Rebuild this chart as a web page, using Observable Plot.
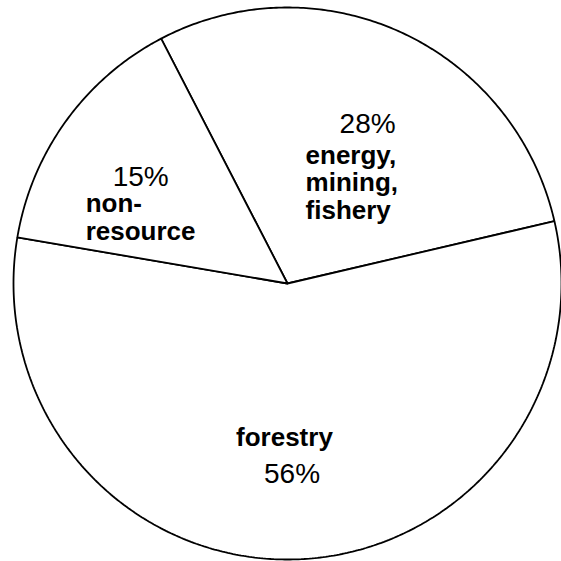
<!DOCTYPE html>
<html><head><meta charset="utf-8">
<script src="https://cdn.jsdelivr.net/npm/d3@7"></script>
<script src="https://cdn.jsdelivr.net/npm/@observablehq/plot@0.6"></script>
<style>html,body{margin:0;padding:0;background:#fff;} svg{display:block}</style>
</head><body><div id="chart"></div>
<script>
// Data
const categories = ["energy, mining, fishery", "forestry", "non-resource"];
const shares = [29.0, 56.3, 14.7];
const percentLabels = ["28%", "56%", "15%"];
const nameLines = [["energy,", "mining,", "fishery"], ["forestry"], ["non-", "resource"]];

// Layout / style (not data)
const W = 561, H = 561;
const cx = 287, cy = 283, rx = 274, ry = 276;
const startDeg = -27.46;
const labelR = 0.55;
const pctOffset = [[-11, -13], [-28, 48], [-53, -8]];
const nameOffset = [[-45, 18], [-56, 11], [-80, 18]];
const lineStep = 27.5;

const pie = d3.pie().sort(null).value(d => d.share)
  .startAngle(startDeg * Math.PI / 180)
  .endAngle(startDeg * Math.PI / 180 + 2 * Math.PI);
const rows = categories.map((c, i) => ({category: c, share: shares[i], pct: percentLabels[i], lines: nameLines[i], i}));
const arcs = pie(rows);

// slice outlines as polygons in unit coordinates
const outline = [];
for (const a of arcs) {
  const n = Math.max(8, Math.ceil((a.endAngle - a.startAngle) / 0.01));
  outline.push({cat: a.data.category, x: 0, y: 0});
  for (let k = 0; k <= n; k++) {
    const t = a.startAngle + (a.endAngle - a.startAngle) * k / n;
    outline.push({cat: a.data.category, x: Math.sin(t), y: Math.cos(t)});
  }
  outline.push({cat: a.data.category, x: 0, y: 0});
}

const anchors = arcs.map(a => {
  const m = (a.startAngle + a.endAngle) / 2;
  return {x: labelR * Math.sin(m), y: labelR * Math.cos(m), d: a.data};
});

const textMarks = [];
const font = "Liberation Sans, Arial, Helvetica, sans-serif";
anchors.forEach((an, i) => {
  textMarks.push(Plot.text([an], {x: "x", y: "y", text: d => d.d.pct,
    dx: pctOffset[i][0], dy: pctOffset[i][1], textAnchor: "start", lineAnchor: "bottom",
    fontSize: 28, fill: "black", fontFamily: font}));
  an.d.lines.forEach((ln, j) => {
    textMarks.push(Plot.text([an], {x: "x", y: "y", text: () => ln,
      dx: nameOffset[i][0], dy: nameOffset[i][1] + j * lineStep, textAnchor: "start", lineAnchor: "bottom",
      fontSize: 26, fontWeight: "bold", fill: "black", fontFamily: font}));
  });
});

const chart = Plot.plot({
  width: W, height: H,
  marginTop: 0, marginRight: 0, marginBottom: 0, marginLeft: 0,
  x: {domain: [-cx / rx, (W - cx) / rx], axis: null},
  y: {domain: [-(H - cy) / ry, cy / ry], axis: null},
  style: {background: "white", fontFamily: font},
  marks: [
    Plot.line(outline, {x: "x", y: "y", z: "cat", fill: "white", stroke: "black", strokeWidth: 1.8, strokeLinejoin: "miter", curve: "linear"}),
    ...textMarks
  ]
});
document.getElementById("chart").appendChild(chart);
</script>
</body></html>
